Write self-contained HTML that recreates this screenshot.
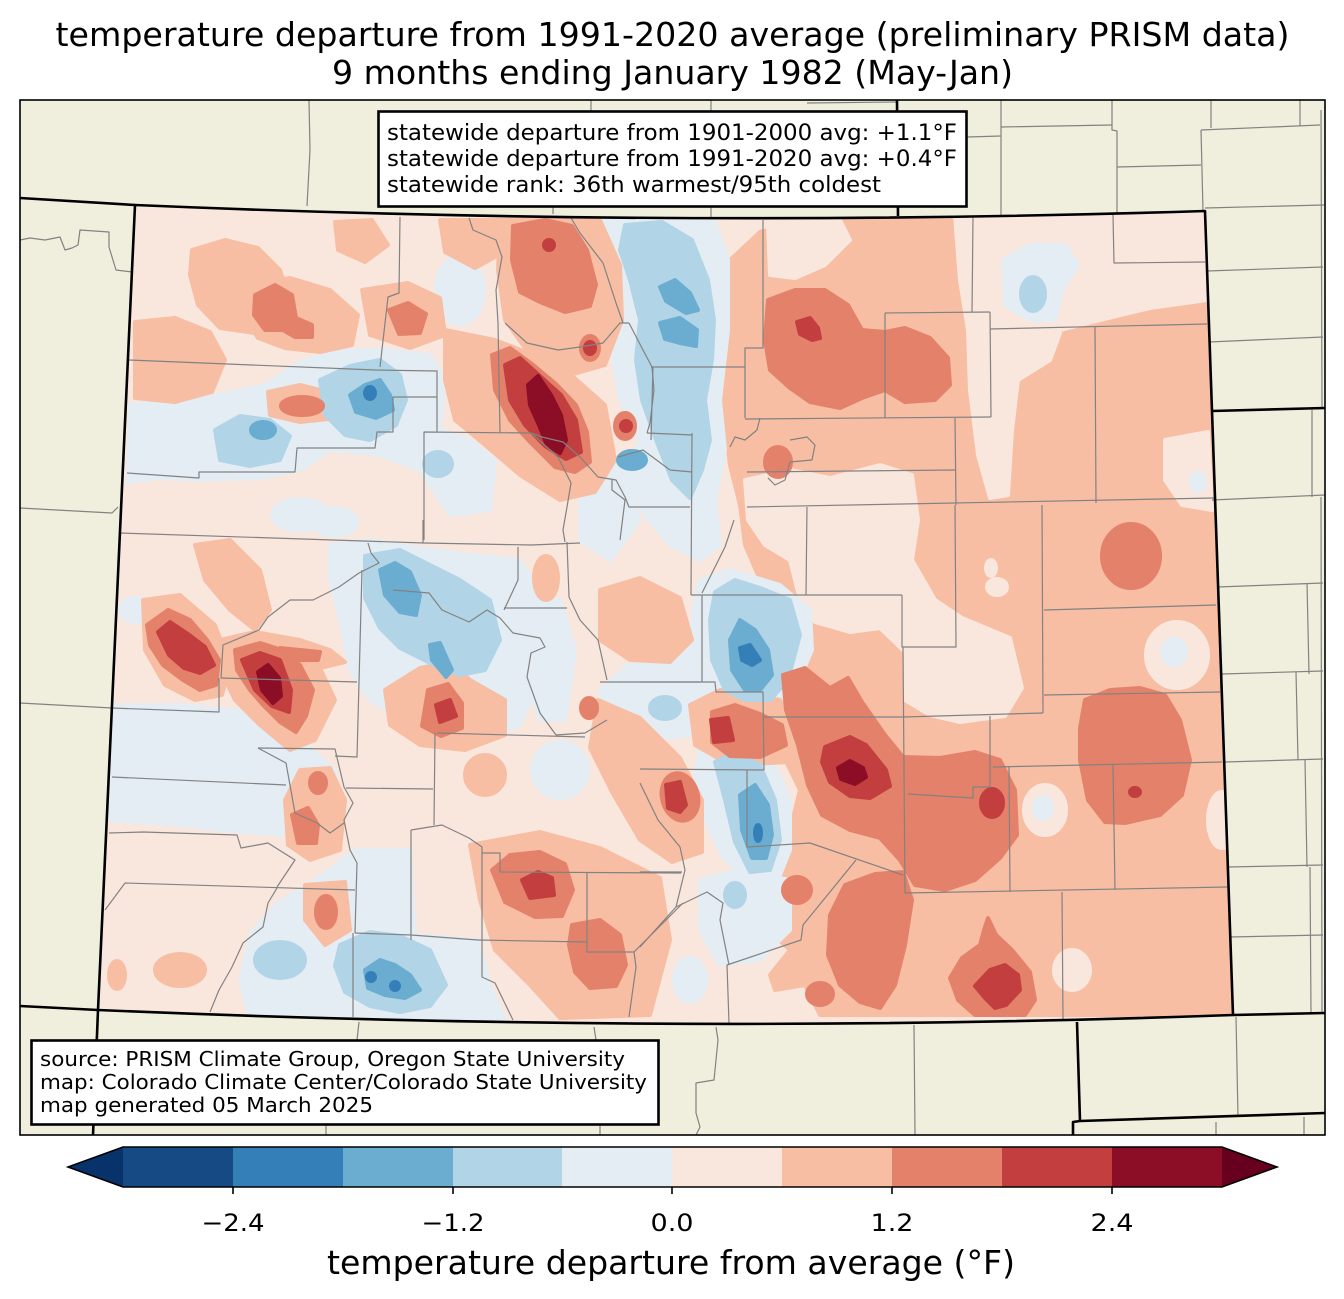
<!DOCTYPE html>
<html><head><meta charset="utf-8"><style>
html,body{margin:0;padding:0;background:#fff}
svg{display:block}
text{font-family:"DejaVu Sans","Liberation Sans",sans-serif;fill:#000}
.d polygon,.d ellipse{stroke-width:4;stroke-linejoin:round}
.lp{fill:#f9e7de;stroke:#f9e7de}
.lb{fill:#e4edf3;stroke:#e4edf3}
.sa{fill:#f7bea4;stroke:#f7bea4}
.mr{fill:#e4816a;stroke:#e4816a}
.rd{fill:#c33e3f;stroke:#c33e3f}
.dr{fill:#8c0d26;stroke:#8c0d26}
.b1{fill:#b2d4e7;stroke:#b2d4e7}
.b2{fill:#6badd0;stroke:#6badd0}
.b3{fill:#357fb9;stroke:#357fb9}
.cl polyline{fill:none;stroke:#828282;stroke-width:1.2;stroke-linejoin:round}
.bl polyline{fill:none;stroke:#000;stroke-width:2.6;stroke-linejoin:round}
</style></head><body>
<svg width="1344" height="1299" viewBox="0 0 1344 1299" xmlns="http://www.w3.org/2000/svg">
<defs>
<clipPath id="co"><path d="M135,205 Q670,228 1205,211 L1212,411 L1233,1015 Q680,1035 98,1010 Z"/></clipPath>
</defs>
<rect width="1344" height="1299" fill="#fff"/>
<text x="672.5" y="46" font-size="33" text-anchor="middle" textLength="1234" lengthAdjust="spacingAndGlyphs">temperature departure from 1991-2020 average (preliminary PRISM data)</text>
<text x="672.5" y="84" font-size="33" text-anchor="middle" textLength="681" lengthAdjust="spacingAndGlyphs">9 months ending January 1982 (May-Jan)</text>
<rect x="20" y="100" width="1305" height="1035" fill="#f0eedc"/>

<g class="d" clip-path="url(#co)">
<rect x="90" y="200" width="1150" height="840" fill="#f9e7de"/>
<!-- east salmon -->
<polygon class="sa" points="728,262 760,232 800,222 1205,211 1232,1015 820,1015 805,985 775,990 770,975 790,950 768,930 765,880 790,830 800,790 778,745 782,700 795,660 800,630 785,600 760,580 745,545 740,505 730,465 722,400 722,330"/>
<!-- east holes -->
<polygon class="lp" points="955,216 1206,211 1207,300 1150,308 1100,320 1060,330 1000,338 968,330 960,280"/>
<polygon class="lp" points="768,222 840,220 850,240 825,265 795,278 770,275"/>
<polygon class="lp" points="968,330 1000,338 1060,333 1050,360 1018,380 1012,430 1008,495 990,498 978,455 970,390"/>
<polygon class="lp" points="745,480 790,470 830,478 880,465 912,475 918,520 912,560 935,600 962,618 1010,638 1022,688 1005,716 960,722 930,715 905,700 905,652 880,628 850,632 815,622 800,600 790,560 765,545 748,520"/>
<polygon class="lp" points="1165,440 1208,432 1212,510 1182,505 1165,480"/>
<ellipse class="lb" cx="1198" cy="482" rx="7" ry="9"/>
<ellipse class="lp" cx="991" cy="568" rx="5" ry="8"/>
<ellipse class="lp" cx="997" cy="587" rx="10" ry="8"/>
<ellipse class="lp" cx="1177" cy="655" rx="31" ry="33"/>
<ellipse class="lb" cx="1174" cy="652" rx="12" ry="13"/>
<ellipse class="lp" cx="1045" cy="810" rx="21" ry="25"/>
<ellipse class="lb" cx="1043" cy="808" rx="9" ry="11"/>
<ellipse class="lp" cx="1072" cy="970" rx="18" ry="20"/>
<ellipse class="lp" cx="1222" cy="820" rx="14" ry="28"/>
<polygon class="lb" points="1003,260 1030,245 1065,245 1078,265 1062,290 1055,320 1030,320 1005,305"/>
<ellipse class="b1" cx="1033" cy="294" rx="12" ry="17"/>

<!-- west light blue -->
<polygon class="lb" points="130,405 175,398 220,395 265,385 300,362 340,350 385,350 430,355 445,380 440,430 470,440 495,460 490,510 450,515 420,470 380,455 330,450 300,470 260,478 200,480 160,478 128,482"/>
<ellipse class="lb" cx="300" cy="515" rx="28" ry="16"/>
<ellipse class="lb" cx="335" cy="522" rx="22" ry="14"/>
<polygon class="lb" points="330,545 370,540 420,548 470,555 520,560 545,600 548,650 535,690 520,725 490,740 450,745 420,730 395,715 370,700 350,670 340,620 330,580"/>
<polygon class="lb" points="598,218 715,222 728,260 728,330 720,400 725,450 715,500 720,545 700,560 670,545 645,515 625,480 640,440 620,400 612,350 605,300 595,260"/>
<polygon class="lb" points="700,580 730,570 780,585 810,610 812,650 795,690 775,712 745,712 715,700 695,690 690,640 695,600"/>
<polygon class="lb" points="700,745 735,740 770,755 790,800 790,850 780,875 750,880 725,860 705,820 695,780"/>
<polygon class="lb" points="600,690 640,655 690,650 700,690 690,735 650,740 610,730"/>
<polygon class="lb" points="250,935 275,905 300,890 330,870 355,850 410,850 415,935 478,940 490,985 505,1020 250,1020 240,980"/>
<polygon class="lb" points="700,880 740,870 790,880 790,930 760,960 720,965 700,930"/>
<ellipse class="lb" cx="690" cy="980" rx="16" ry="22"/>
<polygon class="lb" points="112,705 180,705 250,712 300,740 335,770 340,830 290,835 240,832 180,825 110,820"/>
<ellipse class="lb" cx="135" cy="610" rx="15" ry="12"/>
<ellipse class="lb" cx="460" cy="290" rx="24" ry="34"/>
<polygon class="lb" points="580,470 620,460 640,520 610,560 580,540"/>
<polygon class="lb" points="525,600 560,600 575,650 565,720 540,720 525,680"/>
<ellipse class="lb" cx="560" cy="770" rx="28" ry="28"/>

<!-- west salmon -->
<polygon class="sa" points="192,250 225,240 258,248 280,270 290,300 285,325 255,333 220,328 198,305 190,275"/>
<polygon class="sa" points="135,322 175,318 210,332 225,360 212,392 175,402 135,398"/>
<polygon class="sa" points="245,285 290,278 330,290 358,315 352,345 320,352 285,348 258,338 240,310"/>
<polygon class="sa" points="362,290 408,283 440,298 445,335 410,348 370,335"/>
<polygon class="sa" points="335,222 372,220 388,245 365,262 338,250"/>
<polygon class="sa" points="440,220 500,220 508,250 475,268 445,252"/>
<polygon class="sa" points="500,220 600,220 620,265 622,320 605,365 570,375 530,355 505,320 498,270"/>
<polygon class="sa" points="445,330 495,340 560,365 605,405 615,460 595,492 560,500 520,475 485,445 455,420 445,380"/>
<polygon class="sa" points="268,392 300,385 340,395 338,418 300,422 270,415"/>
<ellipse class="sa" cx="546" cy="578" rx="12" ry="22"/>
<polygon class="sa" points="600,590 640,578 680,598 692,640 670,662 630,660 600,640"/>
<polygon class="sa" points="598,700 640,718 680,758 702,800 702,852 672,862 640,840 612,792 590,748"/>
<polygon class="sa" points="143,600 180,595 215,625 230,665 222,695 195,700 165,685 145,650"/>
<polygon class="sa" points="220,640 255,632 300,640 330,650 345,662 320,668 335,700 315,740 290,750 260,725 235,700 218,665"/>
<polygon class="sa" points="385,690 420,668 450,662 470,680 505,700 505,735 465,750 420,745 390,725"/>
<polygon class="sa" points="285,800 300,770 330,768 345,800 340,850 310,860 288,845"/>
<polygon class="sa" points="305,885 345,882 350,930 325,945 305,920"/>
<polygon class="sa" points="470,845 540,832 600,848 660,878 670,940 650,1015 560,1018 530,985 495,950 480,900"/>
<ellipse class="sa" cx="117" cy="975" rx="8" ry="14"/>
<ellipse class="sa" cx="180" cy="970" rx="25" ry="16"/>
<polygon class="sa" points="195,545 230,540 260,570 270,610 255,630 230,610 205,580"/>
<ellipse class="sa" cx="485" cy="775" rx="20" ry="20"/>
<polygon class="sa" points="690,705 720,690 780,700 800,730 790,762 730,765 695,745"/>

<!-- blue1 -->
<polygon class="b1" points="625,225 662,222 692,240 708,280 714,320 712,360 705,400 710,440 702,470 690,498 672,480 656,440 642,400 636,360 640,320 630,280 620,250"/>
<polygon class="b1" points="320,380 350,366 380,360 400,375 406,400 396,425 370,440 345,435 325,415"/>
<polygon class="b1" points="215,430 240,416 270,420 290,436 280,460 250,466 220,460"/>
<polygon class="b1" points="365,556 400,550 430,565 460,580 490,600 500,640 485,670 460,675 440,668 400,648 380,628 365,598"/>
<polygon class="b1" points="715,592 735,580 760,588 790,600 800,635 788,680 770,700 745,700 725,690 712,660 710,620"/>
<polygon class="b1" points="715,762 735,752 760,765 775,800 780,840 770,870 750,872 735,842 725,800"/>
<polygon class="b1" points="340,945 370,932 400,936 430,950 446,985 430,1006 400,1012 370,1006 345,992 335,966"/>
<ellipse class="b1" cx="665" cy="708" rx="15" ry="11"/>
<ellipse class="b1" cx="735" cy="895" rx="10" ry="12"/>
<ellipse class="b1" cx="280" cy="960" rx="25" ry="18"/>
<ellipse class="b1" cx="438" cy="464" rx="14" ry="12"/>

<!-- medium red -->
<polygon class="mr" points="768,300 795,290 825,290 848,305 862,330 885,332 905,328 930,338 948,358 950,385 935,400 905,402 885,390 862,398 840,408 810,402 790,388 770,370 765,340"/>
<ellipse class="mr" cx="778" cy="462" rx="13" ry="15"/>
<ellipse class="mr" cx="1131" cy="556" rx="29" ry="32"/>
<polygon class="mr" points="1085,700 1110,690 1140,688 1165,695 1180,720 1190,760 1182,795 1160,815 1125,823 1105,822 1088,800 1080,760 1080,728"/>
<polygon class="mr" points="783,675 805,668 830,688 848,678 862,702 885,735 903,757 940,758 975,752 1000,760 1015,790 1017,835 1000,858 975,880 945,890 915,885 900,860 880,838 850,830 822,815 808,785 798,745 786,710"/>
<polygon class="mr" points="845,885 875,874 903,872 912,900 905,945 895,985 880,1008 860,1002 840,985 828,955 830,915"/>
<polygon class="mr" points="988,918 996,935 1012,950 1030,972 1035,1000 1025,1015 975,1015 958,1000 950,978 962,958 980,945 984,930"/>
<ellipse class="mr" cx="797" cy="890" rx="14" ry="13"/>
<ellipse class="mr" cx="820" cy="994" rx="13" ry="11"/>
<polygon class="mr" points="712,712 735,705 760,714 782,725 786,745 760,757 730,756 712,742"/>
<ellipse class="mr" cx="680" cy="797" rx="18" ry="24" transform="rotate(-15 680 797)"/>
<polygon class="mr" points="492,870 510,855 540,852 565,864 573,890 562,916 535,917 505,902"/>
<polygon class="mr" points="572,925 600,920 620,935 626,965 616,986 590,988 575,972 569,945"/>
<polygon class="mr" points="428,690 448,684 462,703 462,728 441,736 422,726"/>
<polygon class="mr" points="292,815 308,808 318,825 316,843 298,843"/>
<ellipse class="mr" cx="318" cy="783" rx="8" ry="10"/>
<ellipse class="mr" cx="326" cy="912" rx="10" ry="16"/>
<polygon class="mr" points="147,625 168,610 190,620 207,640 219,660 216,685 200,690 183,680 163,665 150,645"/>
<polygon class="mr" points="235,650 260,643 282,650 300,665 313,690 306,716 296,732 280,722 264,706 250,690 237,670"/>
<polygon class="mr" points="280,648 320,652 318,660 290,660"/>
<polygon class="mr" points="255,295 275,285 292,295 296,318 312,325 312,337 295,337 283,330 265,330 254,315"/>
<polygon class="mr" points="389,310 408,303 426,314 420,333 399,334"/>
<ellipse class="mr" cx="302" cy="406" rx="21" ry="9"/>
<polygon class="mr" points="513,226 545,220 572,226 587,250 596,285 590,306 565,312 540,302 520,292 512,260"/>
<polygon class="mr" points="492,355 510,348 532,364 556,384 576,405 587,432 590,462 575,472 555,467 530,442 510,420 495,390"/>
<ellipse class="mr" cx="590" cy="348" rx="9" ry="12"/>
<ellipse class="mr" cx="625" cy="426" rx="10" ry="13"/>
<ellipse class="mr" cx="589" cy="708" rx="8" ry="10"/>

<!-- blue2 -->
<polygon class="b2" points="660,287 675,280 690,293 698,310 686,313 666,301"/>
<polygon class="b2" points="660,323 680,318 697,330 696,346 680,343 665,339"/>
<polygon class="b2" points="350,395 365,385 380,380 390,395 393,410 376,418 356,412"/>
<ellipse class="b2" cx="263" cy="430" rx="12" ry="8"/>
<polygon class="b2" points="380,570 395,563 410,572 420,595 416,615 400,612 385,595"/>
<polygon class="b2" points="430,645 440,643 452,670 446,677 432,660"/>
<polygon class="b2" points="730,640 740,620 755,630 768,650 772,675 760,690 745,690 732,670"/>
<polygon class="b2" points="740,795 755,785 768,805 772,835 766,858 752,858 742,830"/>
<polygon class="b2" points="365,970 380,960 395,965 410,975 420,990 405,998 385,995 368,988"/>
<ellipse class="b2" cx="632" cy="460" rx="14" ry="9"/>

<!-- red -->
<polygon class="rd" points="797,322 810,318 818,328 820,338 812,340 800,334"/>
<ellipse class="rd" cx="1135" cy="792" rx="5" ry="4"/>
<polygon class="rd" points="825,747 850,737 866,745 886,770 890,786 870,798 850,796 830,782 822,762"/>
<ellipse class="rd" cx="992" cy="803" rx="11" ry="14"/>
<polygon class="rd" points="975,986 990,970 1005,965 1018,975 1020,990 1006,1005 995,1008 985,998"/>
<polygon class="rd" points="711,720 728,718 733,740 714,742"/>
<polygon class="rd" points="666,785 680,782 686,805 680,812 668,808"/>
<polygon class="rd" points="522,880 538,872 552,878 554,895 530,898"/>
<polygon class="rd" points="436,705 450,700 456,716 440,722"/>
<polygon class="rd" points="158,632 170,622 188,634 205,647 214,665 200,673 184,668 169,655"/>
<polygon class="rd" points="242,660 260,653 280,660 291,690 289,712 272,706 255,690"/>
<polygon class="rd" points="505,365 520,358 541,377 561,395 576,420 581,452 566,459 545,446 525,425 510,400"/>
<ellipse class="rd" cx="549" cy="245" rx="5" ry="5"/>
<ellipse class="rd" cx="626" cy="426" rx="5" ry="5"/>
<ellipse class="rd" cx="590" cy="348" rx="5" ry="6"/>

<!-- blue3 -->
<polygon class="b3" points="740,648 750,645 760,660 752,665 742,660"/>
<ellipse class="b3" cx="758" cy="833" rx="3" ry="8"/>
<ellipse class="b3" cx="370" cy="393" rx="5" ry="6"/>
<ellipse class="b3" cx="371" cy="977" rx="4" ry="4"/>
<ellipse class="b3" cx="395" cy="986" rx="4" ry="4"/>

<!-- dark red -->
<polygon class="dr" points="838,768 850,761 863,768 866,777 855,784 841,779"/>
<polygon class="dr" points="258,672 268,665 279,678 281,696 273,703 262,690"/>
<polygon class="dr" points="528,385 538,376 551,395 561,415 566,440 560,453 547,445 539,425 530,405"/>
</g>

<!-- county lines -->
<g class="cl">
<polyline points="400,217 399,293 388,297 380,367"/>
<polyline points="129,360 375,370 437,371 437,432"/>
<polyline points="127,473 199,478 199,472 295,472 297,448 375,448 377,432 393,432 393,397 437,397"/>
<polyline points="424,540 424,432 531,433"/>
<polyline points="469,218 473,230 496,240 502,257 496,290 498,323 500,433"/>
<polyline points="505,323 527,343 558,350 580,347 603,343 620,323 629,323"/>
<polyline points="571,218 580,233 603,263 616,303 623,323"/>
<polyline points="629,323 643,350 652,367 654,390 650,423 647,433"/>
<polyline points="531,433 558,457 571,483 567,507 563,530 565,542"/>
<polyline points="531,433 542,437 563,442 580,457 598,477 616,480 625,497 629,507 690,507"/>
<polyline points="612,480 612,490 625,500 620,540"/>
<polyline points="647,433 692,435"/>
<polyline points="618,457 643,450 670,470 692,472"/>
<polyline points="651,367 745,367"/>
<polyline points="763,220 763,348 745,348 745,418"/>
<polyline points="973,218 972,312"/>
<polyline points="885,313 990,312"/>
<polyline points="885,313 885,418"/>
<polyline points="990,312 991,417"/>
<polyline points="745,419 991,417"/>
<polyline points="990,329 1207,324"/>
<polyline points="1113,215 1114,263 1205,262"/>
<polyline points="1095,327 1096,503"/>
<polyline points="955,418 956,505"/>
<polyline points="747,472 955,470"/>
<polyline points="747,507 1214,498"/>
<polyline points="807,507 806,595"/>
<polyline points="1042,505 1043,713"/>
<polyline points="653,367 651,440"/>
<polyline points="692,433 691,595"/>
<polyline points="691,595 902,595"/>
<polyline points="902,595 902,647 956,647 955,505"/>
<polyline points="903,647 905,893"/>
<polyline points="763,717 903,717 1043,713"/>
<polyline points="1044,610 1216,605"/>
<polyline points="1044,695 1220,692"/>
<polyline points="990,716 990,787 973,787 973,798 908,794"/>
<polyline points="993,767 1222,762"/>
<polyline points="1009,767 1010,892"/>
<polyline points="1113,765 1115,890"/>
<polyline points="905,893 1227,887"/>
<polyline points="1062,892 1063,1020"/>
<polyline points="640,682 715,682 716,692 763,692 764,770"/>
<polyline points="640,769 764,770"/>
<polyline points="702,595 702,682"/>
<polyline points="747,770 747,847 810,843 903,875"/>
<polyline points="856,860 803,925 801,940 727,965 729,1023"/>
<polyline points="734,520 725,547 702,593"/>
<polyline points="640,783 658,820 680,847 685,870 676,907 640,947"/>
<polyline points="640,872 682,872"/>
<polyline points="676,907 707,892 723,903 720,920 729,965"/>
<polyline points="120,533 424,543 531,545 580,543"/>
<polyline points="423,520 423,543"/>
<polyline points="368,543 371,553 379,563 359,573 339,587 313,600 290,600 268,617 259,630 223,645 221,678"/>
<polyline points="221,678 357,682"/>
<polyline points="362,570 357,757 335,756"/>
<polyline points="219,678 219,712 112,708"/>
<polyline points="393,590 429,593 442,610 469,622 487,610 500,618 513,633 540,638 545,647 531,653 527,677 540,713 556,735"/>
<polyline points="504,610 518,580 518,547"/>
<polyline points="567,542 569,597 580,620 598,640 607,680"/>
<polyline points="504,608 567,608"/>
<polyline points="600,682 700,682"/>
<polyline points="556,735 585,733 607,720"/>
<polyline points="437,733 585,737"/>
<polyline points="435,733 434,825"/>
<polyline points="258,748 335,749 344,787 353,803 344,820 350,850 357,863 355,933"/>
<polyline points="258,748 286,763 295,813"/>
<polyline points="112,777 286,785"/>
<polyline points="346,788 433,789"/>
<polyline points="295,813 317,823 330,833 344,823"/>
<polyline points="109,833 143,832 237,835 241,848 268,843 295,860 277,887"/>
<polyline points="125,883 355,890"/>
<polyline points="125,883 105,910"/>
<polyline points="411,830 442,825 469,838 482,847 482,940"/>
<polyline points="411,830 411,940"/>
<polyline points="355,933 411,935 478,940"/>
<polyline points="482,853 500,853 500,872 681,873"/>
<polyline points="478,940 587,942 587,873"/>
<polyline points="587,942 587,952 634,952 683,903"/>
<polyline points="277,888 268,903 263,927 243,943 232,967 219,990 210,1012"/>
<polyline points="353,933 353,1017"/>
<polyline points="482,940 482,977 495,983 513,1020"/>
<polyline points="634,952 636,967 629,1017"/>
<polyline points="760,418 757,430 745,440 735,437 730,447"/>
<polyline points="790,440 807,437 815,445 812,460 790,462 785,480 775,485 768,478"/>
</g>

<!-- outside lines -->
<g class="cl">
<polyline points="309,100 310,150 307,206"/>
<polyline points="591,100 591,111"/>
<polyline points="553,207 553,214"/>
<polyline points="711,100 711,112"/>
<polyline points="711,207 711,219"/>
<polyline points="807,103 896,102"/>
<polyline points="967,137 1001,136"/>
<polyline points="1001,100 1001,216"/>
<polyline points="1001,127 1112,125"/>
<polyline points="1112,100 1112,130 1117,131 1117,213"/>
<polyline points="1117,167 1201,165"/>
<polyline points="1211,100 1211,128"/>
<polyline points="1201,130 1320,125"/>
<polyline points="1300,100 1300,126"/>
<polyline points="1201,130 1203,211"/>
<polyline points="1205,208 1324,205"/>
<polyline points="1207,271 1323,267"/>
<polyline points="1209,342 1323,337"/>
<polyline points="1321,110 1322,408"/>
<polyline points="1212,500 1325,495"/>
<polyline points="1312,410 1312,497"/>
<polyline points="1218,587 1323,583"/>
<polyline points="1222,674 1323,671"/>
<polyline points="1225,762 1323,759"/>
<polyline points="1228,867 1323,865"/>
<polyline points="1230,937 1323,935"/>
<polyline points="1307,583 1309,674"/>
<polyline points="1296,672 1298,760"/>
<polyline points="1305,760 1307,867"/>
<polyline points="1310,867 1311,1013"/>
<polyline points="1321,497 1322,1013"/>
<polyline points="1236,1017 1238,1117"/>
<polyline points="1216,1122 1216,1135"/>
<polyline points="1304,1117 1304,1135"/>
<polyline points="914,1025 915,1135"/>
<polyline points="716,1027 718,1040 714,1080 696,1083 696,1113 700,1127 696,1135"/>
<polyline points="359,1022 357,1040"/>
<polyline points="326,1125 326,1135"/>
<polyline points="594,1027 596,1040"/>
<polyline points="600,1125 600,1135"/>
<polyline points="20,240 30,238 45,240 60,237 65,250 72,248 78,245 80,230 109,232 109,247 116,270 132,272"/>
<polyline points="20,508 112,513 118,507"/>
<polyline points="20,703 112,708"/>
</g>

<!-- state borders -->
<path d="M135,205 Q670,228 1205,211 L1212,411 L1233,1015 Q680,1035 98,1010 Z" fill="none" stroke="#000" stroke-width="2.6" stroke-linejoin="round"/>
<g class="bl">
<polyline points="20,198 135,205"/>
<polyline points="897,100 898,216"/>
<polyline points="1212,411 1325,408"/>
<polyline points="1233,1015 1325,1013"/>
<polyline points="98,1010 20,1006"/>
<polyline points="98,1010 93,1135"/>
<polyline points="1077,1022 1080,1121"/>
<polyline points="1073,1135 1073,1122 1080,1121 1325,1113"/>
</g>

<!-- frame -->
<rect x="20" y="100" width="1305" height="1035" fill="none" stroke="#000" stroke-width="1.6"/>

<!-- info boxes -->
<rect x="378.5" y="111.5" width="588" height="95" fill="#fff" stroke="#000" stroke-width="2.6"/>
<text x="387" y="140" font-size="22" textLength="570" lengthAdjust="spacingAndGlyphs">statewide departure from 1901-2000 avg: +1.1°F</text>
<text x="387" y="166" font-size="22" textLength="570" lengthAdjust="spacingAndGlyphs">statewide departure from 1991-2020 avg: +0.4°F</text>
<text x="387" y="192" font-size="22" textLength="494" lengthAdjust="spacingAndGlyphs">statewide rank: 36th warmest/95th coldest</text>

<rect x="31.5" y="1040.5" width="627" height="84" fill="#fff" stroke="#000" stroke-width="2.6"/>
<text x="40" y="1066" font-size="20" textLength="585" lengthAdjust="spacingAndGlyphs">source: PRISM Climate Group, Oregon State University</text>
<text x="40" y="1089" font-size="20" textLength="607" lengthAdjust="spacingAndGlyphs">map: Colorado Climate Center/Colorado State University</text>
<text x="40" y="1112" font-size="20" textLength="333" lengthAdjust="spacingAndGlyphs">map generated 05 March 2025</text>

<!-- colorbar -->
<polygon points="68,1167 123,1147 123,1187" fill="#08336a"/>
<rect x="123" y="1147" width="110" height="40" fill="#164a84"/>
<rect x="233" y="1147" width="110" height="40" fill="#357fb9"/>
<rect x="343" y="1147" width="110" height="40" fill="#6badd0"/>
<rect x="453" y="1147" width="110" height="40" fill="#b2d4e7"/>
<rect x="562" y="1147" width="110" height="40" fill="#e4edf3"/>
<rect x="672" y="1147" width="110" height="40" fill="#f9e7de"/>
<rect x="782" y="1147" width="110" height="40" fill="#f7bea4"/>
<rect x="892" y="1147" width="110" height="40" fill="#e4816a"/>
<rect x="1002" y="1147" width="110" height="40" fill="#c33e3f"/>
<rect x="1112" y="1147" width="110" height="40" fill="#8c0d26"/>
<polygon points="1222,1147 1277,1167 1222,1187" fill="#67001f"/>
<polygon points="68,1167 123,1147 1222,1147 1277,1167 1222,1187 123,1187" fill="none" stroke="#000" stroke-width="1.6" stroke-linejoin="miter"/>
<g stroke="#000" stroke-width="1.6">
<line x1="233" y1="1187" x2="233" y2="1194"/>
<line x1="453" y1="1187" x2="453" y2="1194"/>
<line x1="672" y1="1187" x2="672" y2="1194"/>
<line x1="892" y1="1187" x2="892" y2="1194"/>
<line x1="1112" y1="1187" x2="1112" y2="1194"/>
</g>
<g font-size="24" text-anchor="middle">
<text x="233" y="1231" textLength="63" lengthAdjust="spacingAndGlyphs">−2.4</text>
<text x="453" y="1231" textLength="63" lengthAdjust="spacingAndGlyphs">−1.2</text>
<text x="672" y="1231" textLength="43" lengthAdjust="spacingAndGlyphs">0.0</text>
<text x="892" y="1231" textLength="43" lengthAdjust="spacingAndGlyphs">1.2</text>
<text x="1112" y="1231" textLength="43" lengthAdjust="spacingAndGlyphs">2.4</text>
</g>
<text x="671" y="1274" font-size="33" text-anchor="middle" textLength="688" lengthAdjust="spacingAndGlyphs">temperature departure from average (°F)</text>
</svg>
</body></html>
